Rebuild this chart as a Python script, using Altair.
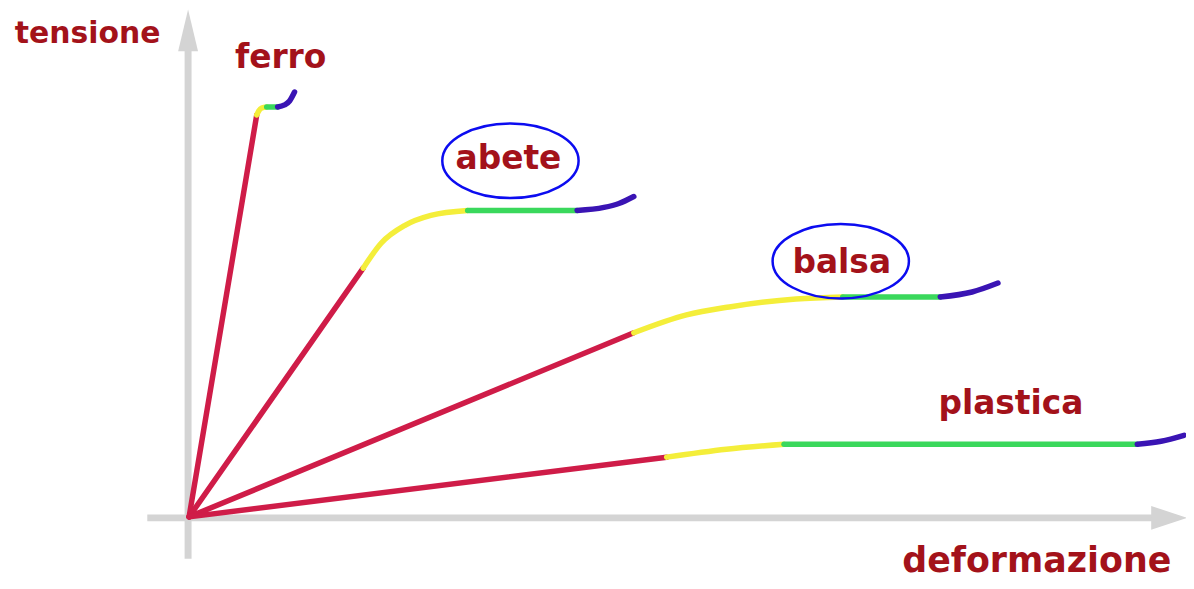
import altair as alt
import pandas as pd

# Readings: deformation (x) and tension (y), in picture units from the axes origin
phases = ["elastica", "snervamento", "plastica", "rottura"]
phase_colors = ["#cf1c48", "#f4ee3a", "#3ad85c", "#3a14b4"]

ferro = {
    "elastica": [(0, 0), (68, 404)],
    "snervamento": [(68, 404), (70, 408), (73, 411), (78, 412)],
    "plastica": [(78, 412), (89, 412)],
    "rottura": [(89, 412), (96, 414), (101, 418), (106, 427)],
}
abete = {
    "elastica": [(0, 0), (175, 250)],
    "snervamento": [(175, 250), (193, 275), (217, 293), (243, 303), (280, 308)],
    "plastica": [(280, 308), (390, 308)],
    "rottura": [(390, 308), (417, 311), (432, 315), (447, 322)],
}
balsa = {
    "elastica": [(0, 0), (447, 185)],
    "snervamento": [(447, 185), (500, 203), (543, 211), (610, 219), (657, 221)],
    "plastica": [(657, 221), (755, 221)],
    "rottura": [(755, 221), (787, 226), (813, 235)],
}
plastica = {
    "elastica": [(0, 0), (480, 60)],
    "snervamento": [(480, 60), (540, 68), (598, 73)],
    "plastica": [(598, 73), (953, 73)],
    "rottura": [(953, 73), (977, 76), (1000, 82)],
}
materials = {"ferro": ferro, "abete": abete, "balsa": balsa, "plastica": plastica}

label_text = ["ferro", "abete", "balsa", "plastica"]
label_x = [92, 321, 656, 826]
label_y = [451, 350, 245, 103]

axis_title_text = ["tensione", "deformazione"]
axis_title_x = [-102, 852]
axis_title_y = [476, -55]

circled_x = [323, 655]
circled_y = [358, 257]

axis_x_line = [-42, 975]      # horizontal axis extent
axis_y_line = [-42, 480]      # vertical axis extent

rows = []
for m, segs in materials.items():
    for ph, pts in segs.items():
        for i, (x, y) in enumerate(pts):
            rows.append({"mat": m, "phase": ph, "seg": m + "-" + ph, "o": i, "x": x, "y": y})
curves = pd.DataFrame(rows)
labels = pd.DataFrame({"t": label_text, "x": label_x, "y": label_y})
titles = pd.DataFrame({"t": axis_title_text, "x": axis_title_x, "y": axis_title_y})
circles = pd.DataFrame({"x": circled_x, "y": circled_y})

W, H = 1184, 573
xs = alt.Scale(domain=[-182, 1002], nice=False, zero=False)
ys = alt.Scale(domain=[-63, 510], nice=False, zero=False)

grey = "#d4d4d4"
axes_h = alt.Chart(pd.DataFrame({"x": [axis_x_line[0]], "x2": [axis_x_line[1]], "y": [-1]})).mark_rule(
    color=grey, strokeWidth=7).encode(
    x=alt.X("x:Q", scale=xs, axis=None), x2="x2:Q", y=alt.Y("y:Q", scale=ys, axis=None))
axes_v = alt.Chart(pd.DataFrame({"y": [axis_y_line[0]], "y2": [axis_y_line[1]], "x": [-1]})).mark_rule(
    color=grey, strokeWidth=7).encode(
    y=alt.Y("y:Q", scale=ys, axis=None), y2="y2:Q", x=alt.X("x:Q", scale=xs, axis=None))
arrow_r = alt.Chart(pd.DataFrame({"x": [985], "y": [-1]})).mark_point(
    shape="M-1,-0.667L1,0L-1,0.667Z", size=1296, filled=True, color=grey, opacity=1).encode(
    x=alt.X("x:Q", scale=xs, axis=None), y=alt.Y("y:Q", scale=ys, axis=None))
arrow_u = alt.Chart(pd.DataFrame({"x": [-1], "y": [489]})).mark_point(
    shape="M-0.476,1L0,-1L0.476,1Z", size=1764, filled=True, color=grey, opacity=1).encode(
    x=alt.X("x:Q", scale=xs, axis=None), y=alt.Y("y:Q", scale=ys, axis=None))

lines = alt.Chart(curves).mark_line(strokeWidth=5.5, interpolate="monotone", strokeCap="round").encode(
    x=alt.X("x:Q", scale=xs, axis=None),
    y=alt.Y("y:Q", scale=ys, axis=None),
    detail="seg:N",
    order="o:Q",
    color=alt.Color("phase:N", scale=alt.Scale(domain=phases, range=phase_colors), legend=None),
)

ell = alt.Chart(circles).mark_point(
    shape="M-1,0A1,0.547,0,1,0,1,0A1,0.547,0,1,0,-1,0Z", size=18769, filled=False,
    color="#0c0cf0", strokeWidth=2.5, opacity=1).encode(
    x=alt.X("x:Q", scale=xs, axis=None), y=alt.Y("y:Q", scale=ys, axis=None))

txt = alt.Chart(labels).mark_text(
    font="DejaVu Sans", fontWeight="bold", fontSize=33, color="#a3121a",
    align="center", baseline="alphabetic").encode(
    x=alt.X("x:Q", scale=xs, axis=None), y=alt.Y("y:Q", scale=ys, axis=None), text="t:N")

ttl_y = alt.Chart(titles.iloc[[0]]).mark_text(
    font="DejaVu Sans", fontWeight="bold", fontSize=30, color="#a3121a",
    align="center", baseline="alphabetic").encode(
    x=alt.X("x:Q", scale=xs, axis=None), y=alt.Y("y:Q", scale=ys, axis=None), text="t:N")
ttl_x = alt.Chart(titles.iloc[[1]]).mark_text(
    font="DejaVu Sans", fontWeight="bold", fontSize=35, color="#a3121a",
    align="center", baseline="alphabetic").encode(
    x=alt.X("x:Q", scale=xs, axis=None), y=alt.Y("y:Q", scale=ys, axis=None), text="t:N")

chart = alt.layer(axes_h, axes_v, arrow_r, arrow_u, lines, ell, txt, ttl_y, ttl_x).properties(
    width=W, height=H, padding=0, autosize=alt.AutoSizeParams(type="none"),
    background="white",
).configure_view(strokeWidth=0)

chart.save("out.html", embed_options={"renderer": "svg", "actions": False})
